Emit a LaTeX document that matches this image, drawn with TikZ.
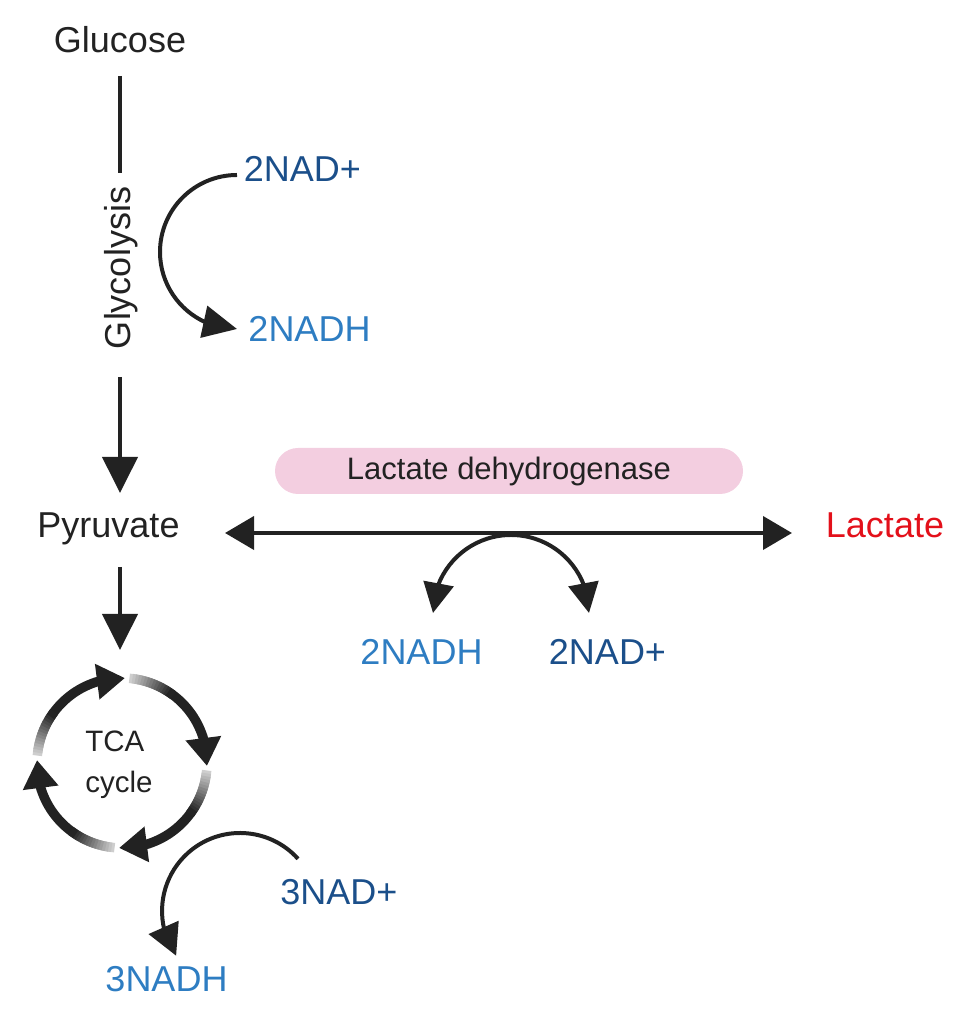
\documentclass[tikz,border=0pt]{standalone}
\usepackage{fontspec}
\setmainfont{Liberation Sans}
\usetikzlibrary{arrows.meta,bending,calc}
\definecolor{ink}{HTML}{222222}
\definecolor{nadp}{HTML}{1B4F8A}
\definecolor{nadh}{HTML}{2E7DC2}
\definecolor{lacred}{HTML}{E3101A}
\definecolor{ldhpink}{HTML}{F3CEE0}
\begin{document}
\begin{tikzpicture}[x=1pt,y=1pt,
  lbl/.style={font=\fontsize{36}{43}\selectfont, inner sep=0pt, anchor=base, text=ink},
  nadplus/.style={lbl, text=nadp},
  nadhs/.style={lbl, text=nadh},
  conn/.style={draw=ink, line width=4pt},
  bigtip/.style={-{Triangle[length=36pt,width=35pt]}},
  dbltip/.style={{Triangle[length=29pt,width=33pt]}-{Triangle[length=29pt,width=33pt]}},
  curvtip/.style={-{Triangle[length=34pt,width=32pt,flex]}},
  ringtip/.style={-{Triangle[length=28pt,width=34pt,flex]}},
]
\useasboundingbox (0,0) rectangle (975,1017);

% labels
\node[lbl] (glucose) at (120,964) {Glucose};
\node[lbl, rotate=90] (glyco) at (130,749) {Glycolysis};
\node[lbl] (pyruvate) at (108.5,479) {Pyruvate};
\node[lbl, text=lacred] (lactate) at (885,479) {Lactate};
\node[nadplus] (nadA) at (302.5,835) {2NAD+};
\node[nadhs] (nadhA) at (309.5,675) {2NADH};
\node[fill=ldhpink, rounded corners=23pt, minimum width=468pt, minimum height=46pt,
      inner sep=0pt, text=ink, font=\fontsize{31}{37}\selectfont] (ldh) at (509,546) {Lactate dehydrogenase};
\node[nadhs] (nadhB) at (421.5,352) {2NADH};
\node[nadplus] (nadB) at (607.5,352) {2NAD+};
\node[nadplus] (nadC) at (339,112) {3NAD+};
\node[nadhs] (nadhC) at (166.5,25) {3NADH};
\node[font=\fontsize{29.5}{41}\selectfont, align=left, inner sep=0pt, text=ink] (tca) at (119,252) {TCA\\cycle};

% named free ends
\coordinate (tcac) at (122,254);
\coordinate (g1) at (120,941);
\coordinate (g2) at (120,844);
\coordinate (g3) at (120,640);
\coordinate (g4) at (120,524);
\coordinate (p1) at (120,450);
\coordinate (p2) at (120,367);
\coordinate (lineL) at (225,484);
\coordinate (lineR) at (792,484);
\coordinate (arcA) at (237,842);
\coordinate (arcB) at (433,404);
\coordinate (arcC) at (298,158.2);

% glycolysis
\draw[conn] (g1) -- (g2);
\draw[conn, bigtip] (g3) -- (g4);
% pyruvate to TCA
\draw[conn, bigtip] (p1) -- (p2);
% LDH double arrow
\draw[conn, dbltip] (lineL) -- (lineR);
% 2NAD+ -> 2NADH
\draw[conn, curvtip] (arcA) arc[start angle=90, end angle=270, radius=77];
% LDH cofactor arc
\draw[conn, {Triangle[length=30pt,width=30pt,flex]}-{Triangle[length=30pt,width=30pt,flex]}]
  (arcB) arc[start angle=180, end angle=0, radius=78];
% 3NAD+ -> 3NADH
\draw[conn, -{Triangle[length=31pt,width=32pt,flex]}] (arcC) arc[start angle=42, end angle=215, radius=78];

% TCA ring
\foreach \t in {88,-2,-92,-182} {
  \pgfmathsetmacro\s{\t+87}
  \pgfmathsetmacro\d{\s-30}
  \draw[line width=9.5pt, draw=ink, ringtip] ($(tcac)+(\d:85)$) arc[start angle=\d, end angle=\t, radius=85];
  \foreach \i in {0,...,14} {
    \pgfmathsetmacro\a{\s-2*\i}
    \pgfmathsetmacro\b{\s-2*\i-4}
    \pgfmathtruncatemacro\c{22+5.5*\i}
    \draw[line width=9.5pt, draw=ink!\c!white] ($(tcac)+(\a:85)$) arc[start angle=\a, end angle=\b, radius=85];
  }
}
\end{tikzpicture}
\end{document}
